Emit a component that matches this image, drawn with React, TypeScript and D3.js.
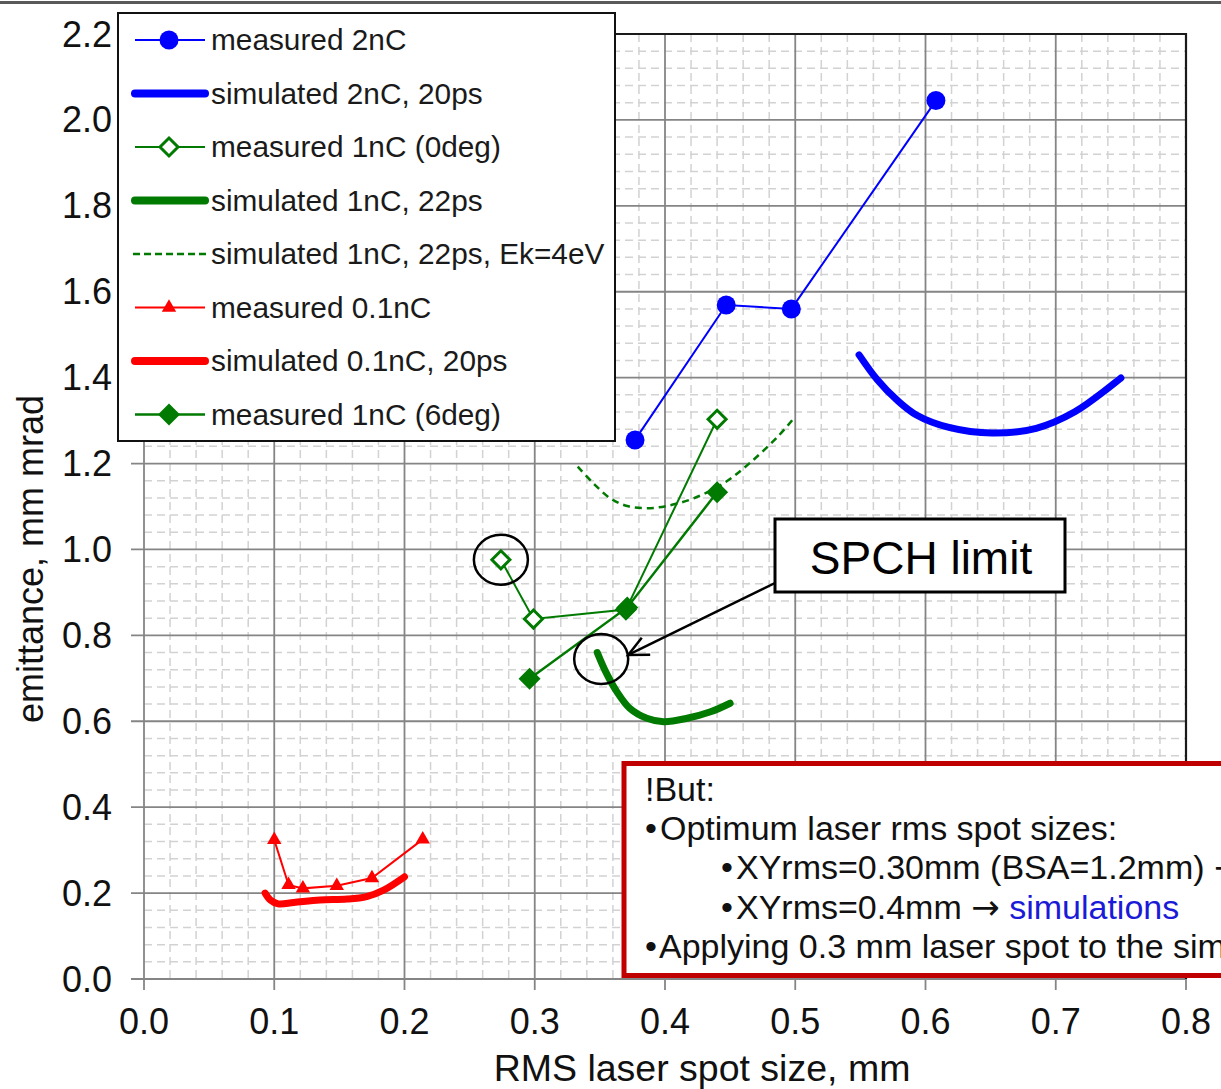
import React from 'react';
import * as d3 from 'd3';

// Axis ticks
const xTicks = [0, 0.1, 0.2, 0.3, 0.4, 0.5, 0.6, 0.7, 0.8];
const yTicks = [0, 0.2, 0.4, 0.6, 0.8, 1.0, 1.2, 1.4, 1.6, 1.8, 2.0, 2.2];

// measured 2nC
const meas2nCX = [0.377, 0.447, 0.497, 0.608];
const meas2nCY = [1.255, 1.569, 1.56, 2.045];

// simulated 2nC, 20ps
const sim2nCX = [0.549, 0.563, 0.578, 0.593, 0.618, 0.651, 0.685, 0.715, 0.75];
const sim2nCY = [1.453, 1.395, 1.348, 1.313, 1.284, 1.271, 1.282, 1.321, 1.399];

// measured 1nC (0deg)
const meas1nC0X = [0.274, 0.299, 0.37, 0.44];
const meas1nC0Y = [0.976, 0.838, 0.86, 1.303];

// simulated 1nC, 22ps
const sim1nCX = [0.348, 0.355, 0.363, 0.373, 0.386, 0.399, 0.417, 0.435, 0.45];
const sim1nCY = [0.76, 0.712, 0.669, 0.63, 0.607, 0.599, 0.607, 0.622, 0.642];

// simulated 1nC, 22ps, Ek=4eV
const sim1nC4eVX = [0.333, 0.345, 0.358, 0.371, 0.386, 0.401, 0.422, 0.445, 0.465, 0.487, 0.499];
const sim1nC4eVY = [1.193, 1.154, 1.119, 1.101, 1.096, 1.101, 1.119, 1.154, 1.201, 1.264, 1.306];

// measured 0.1nC
const meas01X = [0.1, 0.111, 0.122, 0.148, 0.175, 0.214];
const meas01Y = [0.324, 0.219, 0.211, 0.217, 0.235, 0.325];

// simulated 0.1nC, 20ps
const sim01X = [0.093, 0.097, 0.103, 0.115, 0.135, 0.156, 0.171, 0.184, 0.2];
const sim01Y = [0.2, 0.184, 0.175, 0.178, 0.184, 0.186, 0.192, 0.207, 0.238];

// measured 1nC (6deg)
const meas1nC6X = [0.296, 0.371, 0.44];
const meas1nC6Y = [0.699, 0.865, 1.133];

// highlighted points (circled)
const highlightX = [0.274, 0.351];
const highlightY = [0.976, 0.745];

const legendLabels = [
  'measured 2nC',
  'simulated 2nC, 20ps',
  'measured 1nC (0deg)',
  'simulated 1nC, 22ps',
  'simulated 1nC, 22ps, Ek=4eV',
  'measured 0.1nC',
  'simulated 0.1nC, 20ps',
  'measured 1nC (6deg)',
];

const BLUE = '#0000ff';
const GREEN = '#007a00';
const RED = '#ff0000';
const FONT = "'Liberation Sans', Arial, Helvetica, sans-serif";
const ARROW_FONT = "'DejaVu Sans', sans-serif";

const W = 1221;
const H = 1089;
const PL = 144, PR = 1186, PT = 34, PB = 979;

const x = d3.scaleLinear().domain([0, 0.8]).range([PL, PR]);
const y = d3.scaleLinear().domain([0, 2.2]).range([PB, PT]);

const zip = (xs: number[], ys: number[]) => xs.map((v, i) => [v, ys[i]] as [number, number]);

const straight = d3.line<[number, number]>().x(d => x(d[0])).y(d => y(d[1]));
const smooth = d3
  .line<[number, number]>()
  .x(d => x(d[0]))
  .y(d => y(d[1]))
  .curve(d3.curveCatmullRom.alpha(0.5));

const diamond = (h: number) => `M0,${-h}L${h},0L0,${h}L${-h},0Z`;
const triangle = d3.symbol().type(d3.symbolTriangle).size(90)() as string;

function Marker({ kind, cx, cy }: { kind: string; cx: number; cy: number }) {
  const t = `translate(${cx},${cy})`;
  if (kind === 'circle') return <circle cx={cx} cy={cy} r={9.5} fill={BLUE} />;
  if (kind === 'open') return <path transform={t} d={diamond(9)} fill="#fff" stroke={GREEN} strokeWidth={3} />;
  if (kind === 'filled') return <path transform={t} d={diamond(11)} fill={GREEN} />;
  if (kind === 'tri') return <path transform={t} d={triangle} fill={RED} />;
  return null;
}

export default function App() {
  const minorX = d3.range(0, 41).filter(i => i % 5 !== 0).map(i => i * 0.02);
  const minorY = d3.range(0, 56).filter(i => i % 5 !== 0).map(i => i * 0.04);
  const fmt = d3.format('.1f');

  const legendY = (i: number) => 40 + i * 53.5;
  const lx1 = 135, lx2 = 205, lmid = 169;

  const h1 = [x(highlightX[0]), y(highlightY[0])];
  const h2 = [x(highlightX[1]), y(highlightY[1])];

  // arrow from label box to second highlight
  const ax1 = 775, ay1 = 583;
  const ax2 = h2[0] + 27, ay2 = h2[1] - 4;
  const ang = Math.atan2(ay1 - ay2, ax1 - ax2);
  const wing = 22, spread = 0.45;
  const w1 = [ax2 + wing * Math.cos(ang - spread), ay2 + wing * Math.sin(ang - spread)];
  const w2 = [ax2 + wing * Math.cos(ang + spread), ay2 + wing * Math.sin(ang + spread)];

  return (
    <svg
      width={W}
      height={H}
      viewBox={`0 0 ${W} ${H}`}
      style={{ position: 'absolute', left: 0, top: 0, background: '#fff' }}
      fontFamily={FONT}
    >
      <defs>
        <clipPath id="page">
          <rect x={0} y={0} width={W} height={H} />
        </clipPath>
      </defs>
      <rect x={0} y={0} width={W} height={H} fill="#fff" />
      {/* slide header rule */}
      <line x1={0} x2={W} y1={2.5} y2={2.5} stroke="#5a5a5a" strokeWidth={3} />

      {/* minor grid */}
      <g stroke="#d2d2d2" strokeWidth={1.5} strokeDasharray="8,5">
        {minorX.map(v => (
          <line key={'mx' + v} x1={x(v)} x2={x(v)} y1={PT} y2={PB} />
        ))}
        {minorY.map(v => (
          <line key={'my' + v} x1={PL} x2={PR} y1={y(v)} y2={y(v)} />
        ))}
      </g>

      {/* major grid + ticks */}
      <g stroke="#858585" strokeWidth={1.8}>
        {xTicks.map(v => (
          <line key={'gx' + v} x1={x(v)} x2={x(v)} y1={PT} y2={PB + 11} />
        ))}
        {yTicks.map(v => (
          <line key={'gy' + v} x1={PL - 13} x2={PR} y1={y(v)} y2={y(v)} />
        ))}
      </g>
      {/* plot frame (top and right) */}
      <path d={`M${PL},${PT}H${PR}V${PB}`} fill="none" stroke="#1a1a1a" strokeWidth={2.2} />

      {/* tick labels */}
      <g fontSize={36} fill="#111">
        {xTicks.map(v => (
          <text key={'tx' + v} x={x(v)} y={1034} textAnchor="middle">
            {fmt(v)}
          </text>
        ))}
        {yTicks.map(v => (
          <text key={'ty' + v} x={112} y={y(v) + 12.5} textAnchor="end">
            {fmt(v)}
          </text>
        ))}
      </g>
      <text x={702} y={1081} fontSize={37.5} textAnchor="middle" fill="#111">
        RMS laser spot size, mm
      </text>
      <text transform="translate(43,559) rotate(-90)" fontSize={36} textAnchor="middle" fill="#111">
        emittance, mm mrad
      </text>

      {/* simulated curves */}
      <g fill="none" strokeLinecap="round" strokeLinejoin="round">
        <path d={smooth(zip(sim2nCX, sim2nCY)) as string} stroke={BLUE} strokeWidth={7} />
        <path d={smooth(zip(sim1nCX, sim1nCY)) as string} stroke={GREEN} strokeWidth={7} />
        <path d={smooth(zip(sim01X, sim01Y)) as string} stroke={RED} strokeWidth={7} />
        <path
          d={smooth(zip(sim1nC4eVX, sim1nC4eVY)) as string}
          stroke={GREEN}
          strokeWidth={2.5}
          strokeDasharray="7,5"
          strokeLinecap="butt"
        />
      </g>

      {/* measured series */}
      <g fill="none">
        <path d={straight(zip(meas2nCX, meas2nCY)) as string} stroke={BLUE} strokeWidth={2} />
        <path d={straight(zip(meas1nC0X, meas1nC0Y)) as string} stroke={GREEN} strokeWidth={2} />
        <path d={straight(zip(meas01X, meas01Y)) as string} stroke={RED} strokeWidth={2} />
        <path d={straight(zip(meas1nC6X, meas1nC6Y)) as string} stroke={GREEN} strokeWidth={2.5} />
      </g>
      {zip(meas1nC0X, meas1nC0Y).map((d, i) => (
        <Marker key={'o' + i} kind="open" cx={x(d[0])} cy={y(d[1])} />
      ))}
      {zip(meas1nC6X, meas1nC6Y).map((d, i) => (
        <Marker key={'f' + i} kind="filled" cx={x(d[0])} cy={y(d[1])} />
      ))}
      {zip(meas2nCX, meas2nCY).map((d, i) => (
        <Marker key={'c' + i} kind="circle" cx={x(d[0])} cy={y(d[1])} />
      ))}
      {zip(meas01X, meas01Y).map((d, i) => (
        <Marker key={'t' + i} kind="tri" cx={x(d[0])} cy={y(d[1])} />
      ))}

      {/* highlight rings */}
      <ellipse cx={h1[0]} cy={h1[1]} rx={27} ry={25} fill="none" stroke="#000" strokeWidth={2.5} />
      <ellipse cx={h2[0]} cy={h2[1]} rx={27} ry={25} fill="none" stroke="#000" strokeWidth={2.5} />

      {/* SPCH limit callout */}
      <line x1={ax1} y1={ay1} x2={ax2} y2={ay2} stroke="#000" strokeWidth={2.5} />
      <path
        d={`M${w1[0]},${w1[1]}L${ax2},${ay2}L${w2[0]},${w2[1]}`}
        fill="none"
        stroke="#000"
        strokeWidth={2.5}
      />
      <rect x={775} y={519} width={290} height={73} fill="#fff" stroke="#000" strokeWidth={3} />
      <text x={921} y={574} fontSize={46} textAnchor="middle" fill="#000">
        SPCH limit
      </text>

      {/* legend */}
      <rect x={118} y={13} width={497} height={428} fill="#fff" stroke="#111" strokeWidth={2} />
      <g>
        {/* measured 2nC */}
        <line x1={lx1} x2={lx2} y1={legendY(0)} y2={legendY(0)} stroke={BLUE} strokeWidth={2} />
        <Marker kind="circle" cx={lmid} cy={legendY(0)} />
        {/* simulated 2nC */}
        <line x1={lx1} x2={lx2} y1={legendY(1)} y2={legendY(1)} stroke={BLUE} strokeWidth={8} strokeLinecap="round" />
        {/* measured 1nC 0deg */}
        <line x1={lx1} x2={lx2} y1={legendY(2)} y2={legendY(2)} stroke={GREEN} strokeWidth={2} />
        <Marker kind="open" cx={lmid} cy={legendY(2)} />
        {/* simulated 1nC */}
        <line x1={lx1} x2={lx2} y1={legendY(3)} y2={legendY(3)} stroke={GREEN} strokeWidth={8} strokeLinecap="round" />
        {/* simulated 1nC Ek=4eV */}
        <line
          x1={lx1 - 2}
          x2={lx2 + 2}
          y1={legendY(4)}
          y2={legendY(4)}
          stroke={GREEN}
          strokeWidth={2.5}
          strokeDasharray="7,4"
        />
        {/* measured 0.1nC */}
        <line x1={lx1} x2={lx2} y1={legendY(5)} y2={legendY(5)} stroke={RED} strokeWidth={2} />
        <Marker kind="tri" cx={lmid} cy={legendY(5)} />
        {/* simulated 0.1nC */}
        <line x1={lx1} x2={lx2} y1={legendY(6)} y2={legendY(6)} stroke={RED} strokeWidth={8} strokeLinecap="round" />
        {/* measured 1nC 6deg */}
        <line x1={lx1} x2={lx2} y1={legendY(7)} y2={legendY(7)} stroke={GREEN} strokeWidth={2.5} />
        <Marker kind="filled" cx={lmid} cy={legendY(7)} />
      </g>
      <g fontSize={29.8} fill="#1a1a1a">
        {legendLabels.map((s, i) => (
          <text key={s} x={211} y={legendY(i) + 10}>
            {s}
          </text>
        ))}
      </g>

      {/* note box */}
      <g clipPath="url(#page)">
        <rect x={624} y={763.5} width={640} height={212} fill="#fff" stroke="#c00000" strokeWidth={5} />
        <g fontSize={34} fill="#111">
          <text x={645} y={801}>!But:</text>
          <text x={645} y={840}>•</text>
          <text x={660} y={840}>Optimum laser rms spot sizes:</text>
          <text x={721} y={879}>•</text>
          <text x={736} y={879}>
            XYrms=0.30mm (BSA=1.2mm) <tspan fontFamily={ARROW_FONT}>→</tspan>
          </text>
          <text x={721} y={919}>•</text>
          <text x={736} y={919}>
            XYrms=0.4mm <tspan fontFamily={ARROW_FONT}>→</tspan> <tspan fill="#1a1ad8">simulations</tspan>
          </text>
          <text x={645} y={958}>•</text>
          <text x={659} y={958}>Applying 0.3 mm laser spot to the simulations</text>
        </g>
      </g>
    </svg>
  );
}
